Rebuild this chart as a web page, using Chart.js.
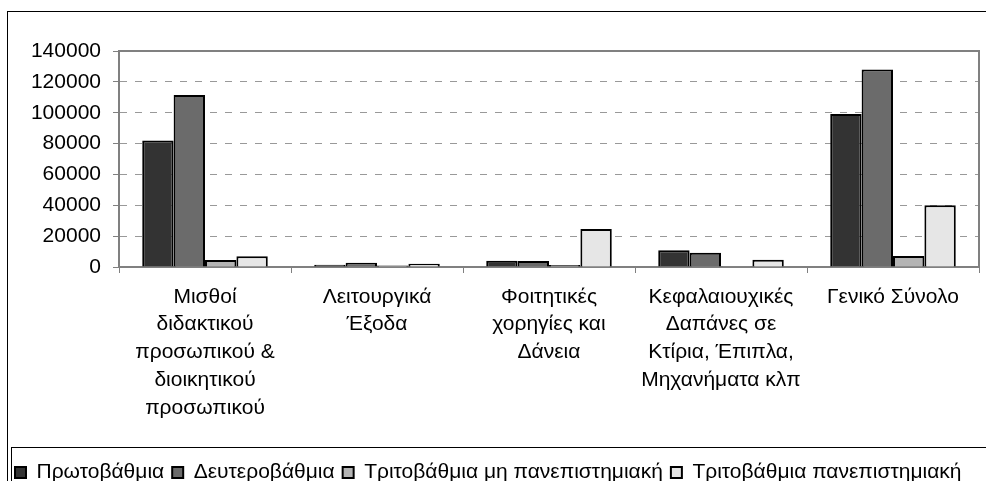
<!DOCTYPE html>
<html>
<head>
<meta charset="utf-8">
<script src="https://cdn.jsdelivr.net/npm/chart.js@4/dist/chart.umd.min.js"></script>
<style>
  html, body { margin: 0; padding: 0; background: #fff; }
  #wrap { width: 986px; height: 481px; }
</style>
</head>
<body>
<div id="wrap"><canvas id="expChart"></canvas></div>
<script>
// categories (multi-line labels as in the original)
const categories = [
  ['Μισθοί', 'διδακτικού', 'προσωπικού &', 'διοικητικού', 'προσωπικού'],
  ['Λειτουργικά', 'Έξοδα'],
  ['Φοιτητικές', 'χορηγίες και', 'Δάνεια'],
  ['Κεφαλαιουχικές', 'Δαπάνες σε', 'Κτίρια, Έπιπλα,', 'Μηχανήματα κλπ'],
  ['Γενικό Σύνολο']
];

// series values
const protovathmia = [82000, 1500, 4100, 10800, 99200];
const defterovathmia = [111500, 2800, 3900, 9300, 128000];
const tritoMhPan = [4500, 900, 1300, 500, 7100];
const tritoPan = [6900, 2100, 24600, 4700, 40100];

const seriesNames = ['Πρωτοβάθμια', 'Δευτεροβάθμια', 'Τριτοβάθμια μη πανεπιστημιακή', 'Τριτοβάθμια πανεπιστημιακή'];
const yMax = 140000;
const yStep = 20000;

const FONT = 'Liberation Sans, Arial, sans-serif';

// white background, plot frame, outer border and legend box
const framePlugin = {
  id: 'frames',
  beforeDraw(chart) {
    const ctx = chart.ctx;
    ctx.save();
    ctx.fillStyle = '#fff';
    ctx.fillRect(0, 0, chart.width, chart.height);
    ctx.restore();
  },
  afterDraw(chart) {
    const { ctx, chartArea: a, legend } = chart;
    ctx.save();
    ctx.strokeStyle = '#808080';
    ctx.lineWidth = 2;
    ctx.beginPath();
    ctx.moveTo(a.left, a.top);
    ctx.lineTo(a.right, a.top);
    ctx.lineTo(a.right, a.bottom);
    ctx.stroke();
    ctx.strokeStyle = '#000';
    ctx.lineWidth = 1;
    ctx.strokeRect(7.5, 11.5, chart.width, chart.height);
    ctx.strokeRect(legend.left + 4.5, legend.top - 6.5, chart.width, 80);
    ctx.restore();
  }
};

const ctx = document.getElementById('expChart').getContext('2d');
const chart = new Chart(ctx, {
  type: 'bar',
  data: {
    labels: categories,
    datasets: [
      { label: seriesNames[0], data: protovathmia, backgroundColor: '#333333' },
      { label: seriesNames[1], data: defterovathmia, backgroundColor: '#6b6b6b' },
      { label: seriesNames[2], data: tritoMhPan, backgroundColor: '#b4b4b4' },
      { label: seriesNames[3], data: tritoPan, backgroundColor: '#e6e6e6' }
    ]
  },
  options: {
    responsive: true,
    maintainAspectRatio: false,
    animation: false,
    layout: { padding: { top: 51, left: 7, right: 7, bottom: -12 } },
    datasets: {
      bar: {
        borderColor: '#000',
        borderWidth: 2,
        categoryPercentage: 0.73,
        barPercentage: 1
      }
    },
    scales: {
      x: {
        grid: { offset: true, drawOnChartArea: false, tickLength: 6, color: '#808080' },
        border: { color: '#808080', width: 2 },
        ticks: {
          color: '#000',
          font: { family: FONT, size: 21, lineHeight: 1.32 },
          maxRotation: 0,
          autoSkip: false,
          padding: 10
        },
        afterFit(scale) { scale.height = 187; }
      },
      y: {
        min: 0,
        max: yMax,
        grid: {
          color: (c) => (c.tick && (c.tick.value === 0 || c.tick.value === yMax)) ? 'rgba(0,0,0,0)' : '#999999',
          tickColor: '#808080',
          tickLength: 6,
          tickBorderDash: [0, 0]
        },
        border: { color: '#808080', width: 2, dash: [7, 8] },
        ticks: {
          stepSize: yStep,
          color: '#000',
          font: { family: FONT, size: 21 },
          padding: 12,
          callback: (v) => String(v)
        },
        afterFit(scale) { scale.width = 112; }
      }
    },
    plugins: {
      legend: {
        position: 'bottom',
        align: 'start',
        labels: {
          color: '#000',
          font: { family: FONT, size: 21 },
          boxWidth: 11,
          boxHeight: 11,
          padding: 8
        }
      },
      tooltip: { enabled: false }
    }
  },
  plugins: [framePlugin]
});
</script>
</body>
</html>
